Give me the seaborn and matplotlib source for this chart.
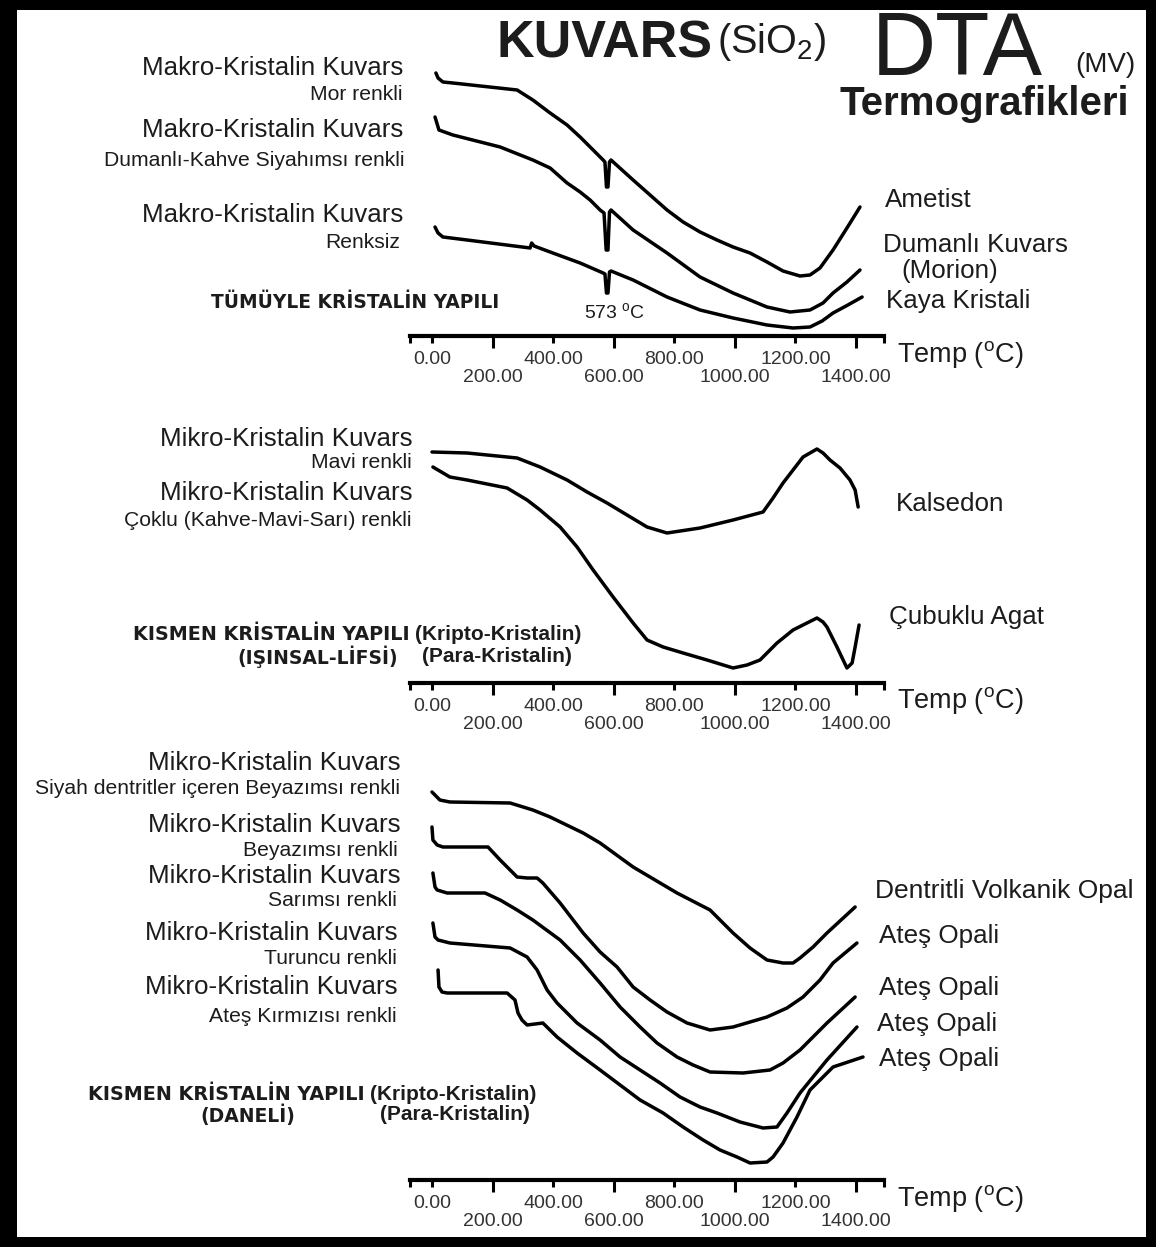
import matplotlib
matplotlib.use("Agg")
import matplotlib.pyplot as plt
import pandas as pd
import seaborn as sns
from matplotlib.patches import Rectangle

# ---------------------------------------------------------------
# DTA curves of quartz varieties: temperature (°C) vs signal (mV)
# ---------------------------------------------------------------

# Temperature axis ticks (two staggered label rows)
ticks_upper = [0, 400, 800, 1200]
ticks_lower = [200, 600, 1000, 1400]
temp_range = (-72.6, 1492.3)

# Panel 1 - fully crystalline (macro-crystalline quartz)
ametist_t = [13, 20, 36, 69, 281, 333, 390, 446, 489, 532, 565, 571, 576, 581, 586, 591, 664, 720, 776, 829, 885, 941, 994, 1050, 1106, 1159, 1215, 1248, 1281, 1324, 1370, 1413]
ametist_v = [26.3, 25.8, 25.4, 25.3, 24.6, 23.6, 22.3, 21.1, 19.9, 18.6, 17.6, 17.4, 14.9, 14.9, 17.4, 17.6, 15.6, 14.1, 12.6, 11.4, 10.4, 9.6, 8.9, 8.3, 7.4, 6.5, 6.0, 6.1, 6.8, 8.6, 10.8, 12.9]

morion_t = [10, 23, 69, 225, 333, 390, 446, 489, 522, 555, 568, 575, 581, 586, 591, 664, 776, 885, 994, 1106, 1182, 1248, 1291, 1324, 1370, 1413]
morion_v = [21.9, 20.6, 20.1, 18.9, 17.6, 16.8, 15.3, 14.4, 13.6, 12.6, 12.3, 8.6, 8.6, 12.4, 12.6, 10.6, 8.3, 5.9, 4.3, 2.9, 2.4, 2.6, 3.3, 4.3, 5.4, 6.6]

kaya_t = [10, 20, 36, 116, 324, 329, 337, 390, 489, 565, 571, 576, 581, 586, 591, 664, 776, 885, 994, 1106, 1192, 1248, 1288, 1324, 1373, 1420]
kaya_v = [10.9, 10.3, 9.9, 9.6, 8.8, 9.3, 9.0, 8.4, 7.3, 6.3, 6.2, 4.3, 4.3, 6.4, 6.5, 5.6, 3.9, 2.6, 1.8, 1.1, 0.8, 0.9, 1.5, 2.3, 3.1, 3.9]

# Panel 2 - partly crystalline, fibrous
kalsedon_t = [0, 116, 281, 357, 446, 512, 578, 644, 710, 776, 885, 994, 1093, 1126, 1159, 1192, 1225, 1271, 1291, 1314, 1347, 1380, 1397, 1407]
kalsedon_v = [23.1, 23.0, 22.5, 21.6, 20.3, 19.1, 18.0, 16.8, 15.6, 15.0, 15.5, 16.3, 17.1, 18.5, 20.0, 21.3, 22.6, 23.4, 23.0, 22.3, 21.5, 20.3, 19.3, 17.6]

agat_t = [3, 59, 116, 248, 314, 357, 423, 479, 532, 598, 664, 710, 763, 829, 908, 994, 1040, 1083, 1139, 1192, 1238, 1271, 1291, 1304, 1337, 1370, 1387, 1397, 1410]
agat_v = [21.6, 20.6, 20.3, 19.5, 18.3, 17.3, 15.6, 13.6, 11.3, 8.6, 6.0, 4.3, 3.6, 3.0, 2.3, 1.5, 1.8, 2.3, 4.0, 5.3, 6.0, 6.5, 6.1, 5.6, 3.6, 1.5, 2.0, 3.6, 5.8]

# Panel 3 - partly crystalline, granular (opals)
dentrit_t = [0, 26, 59, 258, 333, 390, 499, 555, 664, 809, 918, 951, 994, 1050, 1106, 1159, 1192, 1215, 1258, 1304, 1397]
dentrit_v = [38.8, 38.0, 37.8, 37.7, 37.0, 36.3, 34.7, 33.7, 31.3, 28.7, 27.0, 26.0, 24.7, 23.2, 22.0, 21.7, 21.7, 22.2, 23.3, 24.7, 27.3]

beyaz_t = [0, 3, 17, 36, 185, 225, 281, 314, 347, 366, 423, 499, 555, 611, 664, 720, 776, 842, 918, 994, 1106, 1172, 1225, 1281, 1324, 1403]
beyaz_v = [35.3, 34.0, 33.5, 33.3, 33.3, 32.0, 30.3, 30.2, 30.2, 29.7, 27.7, 24.7, 22.8, 21.3, 19.3, 18.0, 16.8, 15.7, 15.0, 15.3, 16.3, 17.2, 18.3, 20.0, 21.7, 23.7]

sari_t = [3, 10, 17, 50, 175, 225, 281, 333, 423, 489, 555, 621, 687, 743, 809, 862, 918, 1027, 1116, 1159, 1215, 1304, 1397]
sari_v = [30.7, 29.3, 29.0, 28.7, 28.7, 28.0, 27.0, 26.0, 24.0, 22.0, 19.7, 17.3, 15.3, 13.7, 12.3, 11.5, 10.8, 10.7, 11.0, 11.7, 13.0, 15.7, 18.3]

turuncu_t = [3, 10, 20, 59, 258, 314, 347, 380, 413, 479, 555, 621, 687, 753, 819, 885, 941, 1017, 1093, 1139, 1172, 1215, 1258, 1304, 1403]
turuncu_v = [25.7, 24.3, 24.0, 23.7, 23.2, 22.3, 21.0, 19.0, 17.7, 15.7, 14.0, 12.3, 11.0, 9.7, 8.3, 7.3, 6.7, 5.8, 5.2, 5.3, 6.7, 8.7, 10.3, 12.0, 15.3]

kirmizi_t = [20, 23, 33, 50, 248, 274, 284, 297, 314, 366, 413, 479, 555, 621, 687, 763, 829, 895, 951, 1007, 1050, 1106, 1126, 1159, 1205, 1248, 1291, 1324, 1423]
kirmizi_v = [21.0, 19.3, 18.8, 18.7, 18.7, 18.0, 16.7, 16.0, 15.5, 15.7, 14.3, 12.7, 11.0, 9.5, 8.0, 6.7, 5.3, 4.0, 3.0, 2.3, 1.7, 1.8, 2.3, 3.7, 6.3, 9.0, 10.3, 11.3, 12.3]

panels = [
    [("Ametist", ametist_t, ametist_v),
     ("Dumanlı Kuvars", morion_t, morion_v),
     ("Kaya Kristali", kaya_t, kaya_v)],
    [("Kalsedon", kalsedon_t, kalsedon_v),
     ("Çubuklu Agat", agat_t, agat_v)],
    [("Dentritli Volkanik Opal", dentrit_t, dentrit_v),
     ("Ateş Opali (Beyazımsı)", beyaz_t, beyaz_v),
     ("Ateş Opali (Sarımsı)", sari_t, sari_v),
     ("Ateş Opali (Turuncu)", turuncu_t, turuncu_v),
     ("Ateş Opali (Kırmızı)", kirmizi_t, kirmizi_v)],
]

records = []
for p, curves in enumerate(panels):
    for name, ts, vs in curves:
        for t, v in zip(ts, vs):
            records.append({"panel": p, "sample": name, "temp": t, "signal": v})
df = pd.DataFrame(records)

# ---------------------------------------------------------------
sns.set_theme(style="white")
SANS = ["Liberation Sans", "DejaVu Sans"]
plt.rcParams["font.family"] = SANS
plt.rcParams["mathtext.fontset"] = "custom"
plt.rcParams["mathtext.rm"] = "Liberation Sans"
plt.rcParams["mathtext.it"] = "Liberation Sans:italic"
plt.rcParams["mathtext.bf"] = "Liberation Sans:bold"

W, H = 1156, 1247
INK = "#1c1c1c"
fig = plt.figure(figsize=(W / 100, H / 100), dpi=100)
fig.patch.set_facecolor("black")
fig.patches.append(Rectangle((17 / W, 10 / H), 1129 / W, 1227 / H,
                             transform=fig.transFigure, facecolor="white",
                             edgecolor="none", zorder=-5))


def put(x, y, s, size, ha="left", weight="normal", family=None, va="center"):
    fig.text(x / W, 1 - (y + 2) / H, s, fontsize=size, ha=ha, va=va,
             weight=weight, family=family or SANS, color=INK)


# axis baseline (px from top) and top of each panel
layout = [(336, 50), (683, 430), (1180, 770)]

for p, (base, top) in enumerate(layout):
    ax = fig.add_axes([410 / W, 1 - base / H, 474 / W, (base - top) / H])
    ax.set_facecolor("none")
    ax.set_zorder(2)
    for name, sub in df[df.panel == p].groupby("sample", sort=False):
        sns.lineplot(data=sub, x="temp", y="signal", sort=False, estimator=None,
                     color="black", linewidth=2.5, ax=ax, clip_on=False,
                     solid_joinstyle="round")
    ax.set_xlim(*temp_range)
    ax.set_ylim(0, (base - top) / 10)
    ax.set_xlabel("")
    ax.set_ylabel("")
    ax.set_yticks([])
    for s in ("top", "left", "right"):
        ax.spines[s].set_visible(False)
    ax.spines["bottom"].set_linewidth(3)
    ax.spines["bottom"].set_color("black")
    ax.set_xticks([temp_range[0]] + ticks_upper + [temp_range[1]])
    ax.set_xticklabels([""] + [f"{t:.2f}" for t in ticks_upper] + [""])
    ax.set_xticks(ticks_lower, minor=True)
    ax.set_xticklabels([f"{t:.2f}" for t in ticks_lower], minor=True)
    ax.tick_params(axis="x", which="major", direction="out", length=5, width=2.2,
                   pad=5.5, labelsize=14, labelcolor="#333333", color="black", bottom=True)
    ax.tick_params(axis="x", which="minor", direction="out", length=8.6, width=2.2,
                   pad=15, labelsize=14, labelcolor="#333333", color="black", bottom=True)
    put(897, base + 16, r"Temp ($^{\mathrm{o}}$C)", 19.5)

# ---- title ----
put(497, 42, "KUVARS", 37.5, weight="bold")
put(717, 40, r"(SiO$_2$)", 28.5)
put(872, 50, "DTA", 64)
put(1075, 63, "(MV)", 20)
put(840, 102, "Termografikleri", 29, weight="bold")

BOLD2 = ["DejaVu Sans"]
SUB = 15.2
MAIN = 18.7

# ---- panel 1 texts ----
put(403, 66, "Makro-Kristalin Kuvars", MAIN, ha="right")
put(403, 93, "Mor renkli", SUB, ha="right")
put(403, 128, "Makro-Kristalin Kuvars", MAIN, ha="right")
put(405, 159, "Dumanlı-Kahve Siyahımsı renkli", SUB, ha="right")
put(403, 213, "Makro-Kristalin Kuvars", MAIN, ha="right")
put(400, 241, "Renksiz", SUB, ha="right")
put(211, 300, "TÜMÜYLE KRİSTALİN YAPILI", 13.4, weight="bold", family=BOLD2)
put(584, 310, r"573 $^{\mathrm{o}}$C", 14)
put(885, 198, "Ametist", MAIN)
put(883, 243, "Dumanlı Kuvars", MAIN)
put(950, 269, "(Morion)", MAIN, ha="center")
put(886, 299, "Kaya Kristali", MAIN)

# ---- panel 2 texts ----
put(413, 437, "Mikro-Kristalin Kuvars", MAIN, ha="right")
put(412, 461, "Mavi renkli", SUB, ha="right")
put(413, 491, "Mikro-Kristalin Kuvars", MAIN, ha="right")
put(412, 518, "Çoklu (Kahve-Mavi-Sarı) renkli", SUB, ha="right")
put(896, 502, "Kalsedon", MAIN)
put(889, 615, "Çubuklu Agat", MAIN)
put(133, 633, "KISMEN KRİSTALİN YAPILI", 13.8, weight="bold", family=BOLD2)
put(415, 633, "(Kripto-Kristalin)", 15, weight="bold")
put(237, 655, "(IŞINSAL-LİFSİ)", 13.5, weight="bold", family=BOLD2)
put(422, 655, "(Para-Kristalin)", 15, weight="bold")

# ---- panel 3 texts ----
left3 = [
    (401, 761, "Mikro-Kristalin Kuvars", MAIN),
    (400, 787, "Siyah dentritler içeren Beyazımsı renkli", SUB),
    (401, 823, "Mikro-Kristalin Kuvars", MAIN),
    (398, 848, "Beyazımsı renkli", SUB),
    (401, 874, "Mikro-Kristalin Kuvars", MAIN),
    (397, 899, "Sarımsı renkli", SUB),
    (398, 931, "Mikro-Kristalin Kuvars", MAIN),
    (397, 956, "Turuncu renkli", SUB),
    (398, 985, "Mikro-Kristalin Kuvars", MAIN),
    (397, 1015, "Ateş Kırmızısı renkli", SUB),
]
for x, y, s, fs in left3:
    put(x, y, s, fs, ha="right")
put(875, 889, "Dentritli Volkanik Opal", 19)
put(879, 934, "Ateş Opali", MAIN)
put(879, 986, "Ateş Opali", MAIN)
put(877, 1022, "Ateş Opali", MAIN)
put(879, 1057, "Ateş Opali", MAIN)
put(88, 1092, "KISMEN KRİSTALİN YAPILI", 13.8, weight="bold", family=BOLD2)
put(370, 1092, "(Kripto-Kristalin)", 15, weight="bold")
put(200, 1113, "(DANELİ)", 13.5, weight="bold", family=BOLD2)
put(380, 1113, "(Para-Kristalin)", 15, weight="bold")

fig.savefig("out.png", dpi=100, facecolor=fig.get_facecolor())
